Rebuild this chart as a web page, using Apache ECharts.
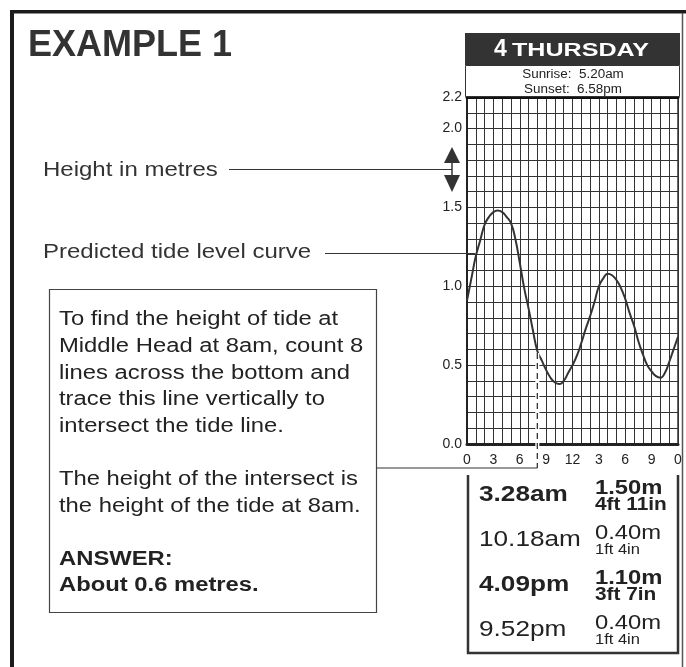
<!DOCTYPE html>
<html><head><meta charset="utf-8">
<script src="https://cdn.jsdelivr.net/npm/echarts@6/dist/echarts.min.js"></script>
<style>html,body{margin:0;padding:0;background:#fff}#c{width:686px;height:667px}</style>
</head><body><div id="c"></div>
<script>
// ---- data (half-hourly readings of the tide curve) ----
const tideHours   = [0, 0.5, 1, 1.5, 2, 2.5, 3, 3.5, 4, 4.5, 5, 5.5, 6, 6.5, 7, 7.5, 8, 8.5, 9, 9.5, 10, 10.5, 11, 11.5, 12,
                     12.5, 13, 13.5, 14, 14.5, 15, 15.5, 16, 16.5, 17, 17.5, 18, 18.5, 19, 19.5, 20, 20.5, 21, 21.5, 22, 22.5, 23, 23.5, 24];
const tideHeights = [0.91, 1.05, 1.19, 1.29, 1.39, 1.44, 1.47, 1.48, 1.47, 1.44, 1.40, 1.30, 1.15, 0.99, 0.86, 0.72, 0.59, 0.53, 0.47, 0.42, 0.39, 0.38, 0.40, 0.45, 0.50,
                     0.56, 0.64, 0.73, 0.81, 0.90, 1.00, 1.05, 1.08, 1.07, 1.04, 0.99, 0.92, 0.83, 0.75, 0.65, 0.57, 0.50, 0.46, 0.43, 0.42, 0.45, 0.52, 0.60, 0.68];
const xTickLabels = ['0', '3', '6', '9', '12', '3', '6', '9', '0'];
const yTickLabels = ['0.0', '0.5', '1.0', '1.5', '2.0', '2.2'];
const tideTimes   = ['3.28am', '10.18am', '4.09pm', '9.52pm'];
const tideMetres  = ['1.50m', '0.40m', '1.10m', '0.40m'];
const tideFeet    = ['4ft 11in', '1ft 4in', '3ft 7in', '1ft 4in'];
const tideIsHigh  = [true, false, true, false];
const readHour = 8;
const readHeight = 0.59;
const pointerHour = 0.95;   // where the "Predicted tide level curve" pointer meets the curve
const pointerHeight = 1.21;
const dayTitleNum = '4';
const dayTitleName = 'THURSDAY';
const sunLines = 'Sunrise:  5.20am\nSunset:  6.58pm';
const exampleTitle = 'EXAMPLE 1';
const boxText = 'To find the height of tide at\nMiddle Head at 8am, count 8\nlines across the bottom and\ntrace this line vertically to\nintersect the tide line.\n\nThe height of the intersect is\nthe height of the tide at 8am.';
const answerText = 'ANSWER:\nAbout 0.6 metres.';

// ---- chart ----
const FONT = '"Liberation Sans", Arial, Helvetica, sans-serif';
const SX = 1.19;
const chart = echarts.init(document.getElementById('c'), null, {renderer: 'canvas'});

chart.setOption({
  animation: false,
  backgroundColor: '#ffffff',
  grid: {left: 467, top: 97, width: 211, height: 347, show: false, containLabel: false, outerBoundsMode: 'none'},
  xAxis: [{
    type: 'value', min: 0, max: 24, interval: 1,
    axisLine: {show: true, onZero: false, lineStyle: {color: '#222', width: 3}},
    axisTick: {show: false},
    splitLine: {show: true, lineStyle: {color: '#333', width: 1}},
    axisLabel: {
      margin: 9, fontSize: 14, color: '#222', fontFamily: FONT,
      showMinLabel: true, showMaxLabel: true, hideOverlap: false,
      formatter: v => { const h = Math.round(v); return h % 3 === 0 ? xTickLabels[h / 3] : ''; }
    }
  }, {
    type: 'value', min: 0, max: 24, position: 'top', gridIndex: 0,
    axisLine: {show: true, onZero: false, lineStyle: {color: '#111', width: 3}},
    axisTick: {show: false}, axisLabel: {show: false}, splitLine: {show: false}
  }],
  yAxis: [{
    type: 'value', min: 0, max: 2.2, interval: 0.1,
    axisLine: {show: true, onZero: false, lineStyle: {color: '#222', width: 2}},
    axisTick: {show: false},
    splitLine: {show: true, lineStyle: {color: '#333', width: 1}},
    axisLabel: {
      margin: 5, fontSize: 14, color: '#222', fontFamily: FONT,
      showMinLabel: true, showMaxLabel: true, hideOverlap: false,
      formatter: v => { const s = (Math.round(v * 10) / 10).toFixed(1); return yTickLabels.indexOf(s) >= 0 ? s : ''; }
    }
  }, {
    type: 'value', min: 0, max: 2.2, position: 'right',
    axisLine: {show: true, onZero: false, lineStyle: {color: '#333', width: 1.5}},
    axisTick: {show: false}, axisLabel: {show: false}, splitLine: {show: false}
  }],
  series: [{
    type: 'line', xAxisIndex: 0, yAxisIndex: 0,
    data: tideHours.map((h, i) => [h, tideHeights[i]]),
    smooth: 0.5, symbol: 'none', z: 5,
    lineStyle: {color: '#333', width: 2}
  }]
});

// ---- annotations positioned through the chart's own scales ----
const pTop = chart.convertToPixel({gridIndex: 0}, [readHour, readHeight]);
const pBase = chart.convertToPixel({gridIndex: 0}, [readHour, 0]);
const pPtr = chart.convertToPixel({gridIndex: 0}, [pointerHour, pointerHeight]);
const dashBottom = pBase[1] + 24;

function txt(x, y, text, font, opts) {
  opts = opts || {};
  return {
    type: 'text', x: x, y: y, scaleX: opts.sx || 1, z: 100,
    style: {
      text: text, font: font, fill: opts.fill || '#2a2a2a',
      align: opts.align || 'left', textAlign: opts.align || 'left',
      verticalAlign: opts.va || 'middle', textVerticalAlign: opts.va || 'middle',
      lineHeight: opts.lh, rich: opts.rich
    }
  };
}
function line(x1, y1, x2, y2, w, c, dash) {
  return {type: 'line', z: 90, shape: {x1: x1, y1: y1, x2: x2, y2: y2},
          style: {stroke: c || '#333', lineWidth: w || 1, lineDash: dash || null}};
}

const els = [];
// outer frame
els.push({type: 'rect', z: 90, shape: {x: 10, y: 10, width: 4, height: 657}, style: {fill: '#1c1c1c'}});
els.push({type: 'rect', z: 90, shape: {x: 10, y: 10, width: 676, height: 3.5}, style: {fill: '#1c1c1c'}});
els.push(line(682.5, 13, 682.5, 667, 1.5, '#555'));

// title
els.push(txt(28, 46, exampleTitle, 'bold 36px ' + FONT, {fill: '#333'}));

// day header
els.push({type: 'rect', z: 90, shape: {x: 465, y: 33, width: 215, height: 32}, style: {fill: '#333'}});
els.push(txt(494, 50, dayTitleNum, 'bold 23px ' + FONT, {fill: '#fff', sx: 1.0}));
els.push(txt(512, 51, dayTitleName, 'bold 19px ' + FONT, {fill: '#fff', sx: 1.32}));
els.push({type: 'rect', z: 90, shape: {x: 465.5, y: 65.5, width: 214, height: 31}, style: {fill: '#fff', stroke: '#333', lineWidth: 1}});
els.push(txt(573, 82, sunLines, '12px ' + FONT, {align: 'center', sx: 1.12, lh: 15, fill: '#222'}));

// left labels with pointers
els.push(txt(43, 170, 'Height in metres', '20px ' + FONT, {sx: 1.2, fill: '#333'}));
els.push(line(229, 169.5, 452, 169.5, 1.2, '#333'));
els.push({type: 'polygon', z: 91, shape: {points: [[444, 163], [460, 163], [452, 147]]}, style: {fill: '#333'}});
els.push({type: 'polygon', z: 91, shape: {points: [[444, 175], [460, 175], [452, 192]]}, style: {fill: '#333'}});
els.push(line(452, 162, 452, 176, 1.5, '#333'));

els.push(txt(43, 252, 'Predicted tide level curve', '20px ' + FONT, {sx: 1.2, fill: '#333'}));
els.push(line(325, 253.5, pPtr[0], 253.5, 1.2, '#333'));

// explanation box
els.push({type: 'rect', z: 90, shape: {x: 49.5, y: 289.5, width: 327, height: 323}, style: {fill: '#fff', stroke: '#444', lineWidth: 1.2}});
els.push(txt(59, 306.5, boxText, '20px ' + FONT, {sx: 1.19, lh: 26.6, va: 'top', fill: '#222'}));
els.push(txt(59, 546, answerText, 'bold 20px ' + FONT, {sx: 1.19, lh: 26.6, va: 'top', fill: '#222'}));

// reading line: white under-stroke then dashes
els.push(line(pTop[0], pTop[1] + 2, pTop[0], dashBottom, 4, '#fff'));
els.push(line(pTop[0], pTop[1] + 2, pTop[0], dashBottom, 1.3, '#333', [6, 4]));
els.push(line(376.5, dashBottom, pTop[0], dashBottom, 1.2, '#333'));

// tide table
els.push({type: 'polyline', z: 90, shape: {points: [[468, 475], [468, 653], [678, 653], [678, 475]]}, style: {stroke: '#333', lineWidth: 2.5, fill: null}});
const rowY0 = 495, rowStep = 45;
tideTimes.forEach((t, i) => {
  const y = rowY0 + i * rowStep;
  const bold = tideIsHigh[i] ? 'bold ' : '';
  els.push(txt(479, y, t, bold + '22px ' + FONT, {sx: SX, fill: '#222'}));
  els.push(txt(595, y - 7, tideMetres[i], bold + '20px ' + FONT, {sx: SX, fill: '#222'}));
  els.push(txt(595, y + 10, tideFeet[i], (tideIsHigh[i] ? 'bold 17.5px ' : '15px ') + FONT, {sx: tideIsHigh[i] ? SX : 1.1, fill: '#222'}));
});

chart.setOption({graphic: {elements: els}});
</script>
</body></html>
